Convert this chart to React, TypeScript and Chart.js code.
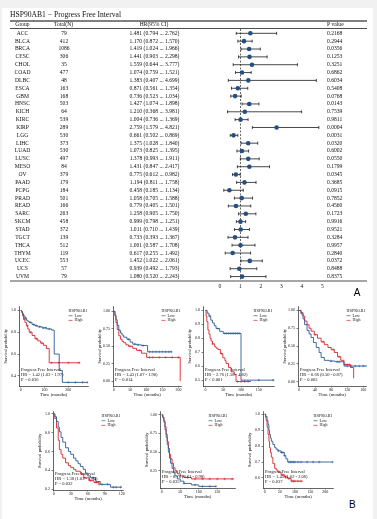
import React, { useEffect, useRef } from 'react';
import { Chart, registerables } from 'chart.js';

Chart.register(...registerables);

const SERIF = '"Liberation Serif", "Times New Roman", serif';
const SANS = '"Liberation Sans", Arial, sans-serif';
const BLUE = '#2c5b94';
const RED = '#d9252b';
const DOT = '#234f83';

// ---------- Panel A data ----------
const groups = ['ACC','BLCA','BRCA','CESC','CHOL','COAD','DLBC','ESCA','GBM','HNSC','KICH','KIRC','KIRP','LGG','LIHC','LUAD','LUSC','MESO','OV','PAAD','PCPG','PRAD','READ','SARC','SKCM','STAD','TGCT','THCA','THYM','UCEC','UCS','UVM'];
const totals = [79,412,1086,306,35,477,48,163,168,503,64,539,289,530,373,530,497,84,379,179,184,501,166,263,458,372,139,512,119,553,57,79];
const hr = [1.481,1.170,1.419,1.441,1.559,1.074,1.383,0.871,0.736,1.427,1.210,1.004,2.759,0.661,1.375,1.073,1.378,1.431,0.775,1.194,0.458,1.058,0.779,1.258,0.999,1.011,0.733,1.001,0.617,1.452,0.939,1.080];
const lower = [0.794,0.872,1.024,0.903,0.644,0.759,0.407,0.561,0.523,1.074,0.368,0.736,1.579,0.502,1.028,0.825,0.993,0.847,0.612,0.811,0.185,0.705,0.405,0.905,0.798,0.710,0.393,0.587,0.255,1.022,0.492,0.520];
const upper = [2.762,1.570,1.966,2.298,3.777,1.521,4.699,1.354,1.034,1.898,3.981,1.369,4.821,0.869,1.840,1.395,1.911,2.417,0.982,1.758,1.134,1.588,1.501,1.750,1.251,1.439,1.367,1.708,1.492,2.061,1.793,2.243];
const pValues = ['0.2168','0.2944','0.0356','0.1253','0.3251','0.6862','0.6034','0.5408','0.0768','0.0143','0.7539','0.9811','0.0004','0.0031','0.0320','0.6002','0.0550','0.1799','0.0345','0.3685','0.0915','0.7852','0.4560','0.1723','0.9916','0.9521','0.3284','0.9957','0.2840','0.0372','0.8488','0.8375'];
const forestTicks = [0, 1, 2, 3, 4, 5];

// ---------- Panel B data (Kaplan-Meier curves) ----------
const brcaLowT = [0,4,8,12,18,24,30,36,48,60,72,90,110,130,141,162,175,280];
const brcaLowS = [1,0.99,0.97,0.95,0.93,0.91,0.9,0.89,0.87,0.86,0.85,0.84,0.83,0.82,0.6,0.45,0.34,0.34];
const brcaLowC = [20,40,55,65,80,95,105,120,200,230,260,280];
const brcaHighT = [0,4,8,12,18,24,30,36,48,60,72,84,96,108,120,250];
const brcaHighS = [1,0.98,0.95,0.92,0.89,0.86,0.83,0.8,0.77,0.74,0.72,0.7,0.68,0.65,0.52,0.52];
const brcaHighC = [15,28,42,66,90,130,160,200,245];

const hnscLowT = [0,3,6,10,15,20,25,30,40,50,58,70,85,104,178];
const hnscLowS = [1,0.95,0.88,0.8,0.73,0.69,0.66,0.63,0.6,0.56,0.53,0.52,0.51,0.42,0.42];
const hnscLowC = [45,65,75,90,110,120,130,140,150,160,170,178];
const hnscHighT = [0,3,6,10,15,20,25,30,37,45,58,70,85,101,205];
const hnscHighS = [1,0.93,0.84,0.74,0.65,0.6,0.57,0.55,0.52,0.5,0.47,0.44,0.4,0.34,0];
const hnscHighC = [50,80,110,120,140,160,180,200];

const kirpLowT = [0,5,10,15,20,25,30,40,50,100,194];
const kirpLowS = [1,0.98,0.96,0.93,0.91,0.89,0.87,0.85,0.835,0.5,0.5];
const kirpLowC = [12,35,55,60,65,70,75,80,85,90,95,150,190];
const kirpHighT = [0,2,4,7,10,13,16,20,26,30,35,42,49,55,58,65,72,81,86,128];
const kirpHighS = [1,0.96,0.92,0.86,0.83,0.8,0.78,0.76,0.74,0.73,0.72,0.69,0.66,0.64,0.62,0.59,0.56,0.54,0.49,0.49];
const kirpHighC = [20,45,90,100,110,120];

const lggLowT = [0,5,10,14,20,25,30,36,43,50,55,63,75,90,112,168];
const lggLowS = [1,0.95,0.88,0.8,0.72,0.67,0.62,0.55,0.48,0.41,0.34,0.3,0.29,0.28,0.22,0.22];
const lggLowC = [80,95,100,120,130,140,150,160,168];
const lggHighT = [0,5,10,14,20,25,30,38,46,55,63,72,80,88,96,104,112,128,136];
const lggHighS = [1,0.97,0.92,0.85,0.8,0.75,0.71,0.66,0.61,0.56,0.52,0.48,0.45,0.41,0.35,0.3,0.24,0.2,0.05];
const lggHighC = [40,60,85,100,115,120,125];

const lihcLowT = [0,2,5,8,10,13,16,21,26,30,35,39,43,47,52,56,60,65,74,82,100,120];
const lihcLowS = [1,0.97,0.92,0.86,0.81,0.75,0.7,0.64,0.6,0.57,0.53,0.5,0.47,0.44,0.41,0.37,0.34,0.32,0.28,0.25,0.22,0.22];
const lihcLowC = [70,85,95,105,110,118];
const lihcHighT = [0,2,5,8,10,13,16,21,26,30,35,39,47,53,62,71,80];
const lihcHighS = [1,0.95,0.85,0.72,0.62,0.57,0.53,0.48,0.45,0.43,0.41,0.39,0.36,0.32,0.29,0.27,0.25];
const lihcHighC = [55,65,75,80];

const ovLowT = [0,3,6,9,12,15,18,21,24,28,32,36,42,50,60,80,100,146];
const ovLowS = [1,0.96,0.9,0.8,0.7,0.6,0.5,0.42,0.35,0.28,0.22,0.18,0.14,0.11,0.08,0.06,0.04,0.04];
const ovLowC = [60,90,110,130,146];
const ovHighT = [0,3,6,9,12,15,18,21,24,28,32,36,42,50,60,80,195];
const ovHighS = [1,0.97,0.92,0.84,0.74,0.64,0.55,0.47,0.41,0.35,0.29,0.25,0.21,0.18,0.16,0.14,0.14];
const ovHighC = [70,90,110,130,150,170,190];

const ucecLowT = [0,3,5,8,11,14,16,19,22,27,33,38,44,54,65,70,76,225];
const ucecLowS = [1,0.99,0.985,0.96,0.935,0.9,0.873,0.85,0.83,0.81,0.79,0.78,0.77,0.76,0.74,0.72,0.7,0.7];
const ucecLowC = [45,55,60,65,80,85,90,95,100,110,120,140,160,180,225];
const ucecHighT = [0,3,5,8,11,14,16,19,22,27,33,38,44,54,65,76,87,125];
const ucecHighS = [1,0.98,0.96,0.92,0.873,0.83,0.79,0.76,0.73,0.69,0.66,0.65,0.637,0.62,0.606,0.596,0.58,0.58];
const ucecHighC = [60,70,80,90,95,100,110,120];

const kmNames = ['BRCA','HNSC','KIRP','LGG','LIHC','OV','UCEC'];
const kmHrText = ['HR = 1.42 (1.02 - 1.97)','HR = 1.43 (1.07 - 1.90)','HR = 2.76 (1.58 - 4.82)','HR = 0.66 (0.50 - 0.87)','HR = 1.38 (1.03 - 1.84)','HR = 0.78 (0.61 - 0.98)','HR = 1.45 (1.02 - 2.06)'];
const kmPText = ['P = 0.036','P = 0.014','P < 0.001','P = 0.003','P = 0.032','P = 0.035','P = 0.037'];
const kmXTicks = [[0,100,200],[0,50,100,150,200],[0,50,100,150],[0,40,80,120,160],[0,30,60,90,120],[0,50,100,150],[0,50,100,150,200]];
const kmYTicks = [[0.4,0.6,0.8,1.0],[0,0.25,0.5,0.75,1],[0.5,0.6,0.7,0.8,0.9,1.0],[0,0.25,0.5,0.75,1],[0.2,0.4,0.6,0.8,1.0],[0.25,0.5,0.75,1.0],[0.6,0.7,0.8,0.9,1.0]];
const kmYDecimals = [1,2,1,2,1,2,1];
const kmXRange = [[-7,285],[-3,209],[-6.7,194],[-2.5,168],[-1.2,123],[-4.5,199],[-5.5,227]];
const kmYRange = [[0.307,1.036],[-0.07,1.07],[0.458,1.028],[-0.06,1.055],[0.19,1.026],[0.0185,1.044],[0.537,1.017]];
const kmCurves = [
  { lowT: brcaLowT, lowS: brcaLowS, lowC: brcaLowC, highT: brcaHighT, highS: brcaHighS, highC: brcaHighC },
  { lowT: hnscLowT, lowS: hnscLowS, lowC: hnscLowC, highT: hnscHighT, highS: hnscHighS, highC: hnscHighC },
  { lowT: kirpLowT, lowS: kirpLowS, lowC: kirpLowC, highT: kirpHighT, highS: kirpHighS, highC: kirpHighC },
  { lowT: lggLowT, lowS: lggLowS, lowC: lggLowC, highT: lggHighT, highS: lggHighS, highC: lggHighC },
  { lowT: lihcLowT, lowS: lihcLowS, lowC: lihcLowC, highT: lihcHighT, highS: lihcHighS, highC: lihcHighC },
  { lowT: ovLowT, lowS: ovLowS, lowC: ovLowC, highT: ovHighT, highS: ovHighS, highC: ovHighC },
  { lowT: ucecLowT, lowS: ucecLowS, lowC: ucecLowC, highT: ucecHighT, highS: ucecHighS, highC: ucecHighC },
];

// layout of KM panels (page px): axis x, top, right, bottom of plot area; legend offset
const kmBoxes = [
  { axisX: 19, top: 305, right: 90, bottom: 386, legendDx: 20 },
  { axisX: 113, top: 305, right: 183, bottom: 386, legendDx: 20 },
  { axisX: 203, top: 305, right: 276, bottom: 386, legendDx: 21 },
  { axisX: 298, top: 305, right: 368, bottom: 386, legendDx: 20 },
  { axisX: 53, top: 410, right: 125, bottom: 490, legendDx: 22 },
  { axisX: 160, top: 410, right: 237, bottom: 488, legendDx: 27 },
  { axisX: 263, top: 410, right: 335, bottom: 488, legendDx: 20 },
];

function survAt(t: number[], s: number[], time: number) {
  let v = s[0];
  for (let i = 0; i < t.length; i++) if (t[i] <= time) v = s[i];
  return v;
}

const forestPlugin = {
  id: 'forestTable',
  beforeDatasetsDraw(chart: any) {
    const { ctx, scales } = chart;
    const x = scales.x, y = scales.y;
    ctx.save();
    const x1 = x.getPixelForValue(1);
    ctx.setLineDash([2, 1.5]);
    ctx.lineWidth = 0.6;
    ctx.strokeStyle = '#000';
    ctx.beginPath();
    ctx.moveTo(x1, 29);
    ctx.lineTo(x1, 281);
    ctx.stroke();
    ctx.setLineDash([]);
    ctx.strokeStyle = '#1a1a1a';
    ctx.lineWidth = 0.8;
    groups.forEach((g, i) => {
      const py = y.getPixelForValue(i);
      const a = x.getPixelForValue(lower[i]);
      const b = x.getPixelForValue(upper[i]);
      ctx.beginPath();
      ctx.moveTo(a, py); ctx.lineTo(b, py);
      ctx.moveTo(a, py - 1.5); ctx.lineTo(a, py + 1.5);
      ctx.moveTo(b, py - 1.5); ctx.lineTo(b, py + 1.5);
      ctx.stroke();
    });
    ctx.restore();
  },
  afterDraw(chart: any) {
    const { ctx, scales } = chart;
    const x = scales.x, y = scales.y;
    ctx.save();
    ctx.fillStyle = '#111';
    ctx.textBaseline = 'middle';
    ctx.font = `7.6px ${SERIF}`;
    ctx.textAlign = 'left';
    ctx.fillText('HSP90AB1 \u2212 Progress Free Interval', 10, 15);
    ctx.strokeStyle = '#000';
    ctx.lineWidth = 1;
    ctx.beginPath(); ctx.moveTo(10, 21); ctx.lineTo(367, 21); ctx.stroke();
    ctx.lineWidth = 0.7;
    ctx.beginPath(); ctx.moveTo(10, 28.5); ctx.lineTo(367, 28.5); ctx.stroke();
    ctx.beginPath(); ctx.moveTo(10, 281); ctx.lineTo(367, 281); ctx.stroke();
    ctx.font = `5.6px ${SERIF}`;
    ctx.textAlign = 'center';
    ctx.fillText('Group', 22.5, 24.7);
    ctx.fillText('Total(N)', 63.5, 24.7);
    ctx.fillText('HR(95% CI)', 154, 24.7);
    ctx.textAlign = 'left';
    ctx.fillText('P value', 327, 24.7);
    groups.forEach((g, i) => {
      const py = y.getPixelForValue(i);
      ctx.textAlign = 'center';
      ctx.fillText(g, 22.5, py);
      ctx.fillText(String(totals[i]), 64, py);
      ctx.fillText(`${hr[i].toFixed(3)} (${lower[i].toFixed(3)} ... ${upper[i].toFixed(3)})`, 154.5, py);
      ctx.textAlign = 'left';
      ctx.fillText(pValues[i], 327, py);
    });
    ctx.textAlign = 'center';
    forestTicks.forEach((t) => {
      ctx.fillText(String(t), x.getPixelForValue(t), 286.5);
    });
    ctx.font = `10px ${SANS}`;
    ctx.fillStyle = '#000';
    ctx.fillText('A', 357, 293.5);
    ctx.restore();
  },
};

const kmTextPlugin = {
  id: 'kmText',
  afterDraw(chart: any, _args: any, opts: any) {
    const { ctx, chartArea } = chart;
    ctx.save();
    ctx.font = `4px ${SERIF}`;
    ctx.fillStyle = '#111';
    ctx.textBaseline = 'middle';
    ctx.textAlign = 'left';
    const lx = chartArea.right - opts.legendDx;
    const ly = chartArea.top + 4;
    ctx.fillText('HSP90AB1', lx, ly);
    const items: [string, string][] = [['Low', BLUE], ['High', RED]];
    items.forEach(([label, col], k) => {
      const yy = ly + 5.2 + k * 4.7;
      ctx.strokeStyle = col;
      ctx.lineWidth = 0.7;
      ctx.beginPath(); ctx.moveTo(lx, yy); ctx.lineTo(lx + 4, yy); ctx.stroke();
      ctx.fillText(label, lx + 6, yy);
    });
    ctx.font = `4.5px ${SERIF}`;
    const tx = chartArea.left + 2;
    ctx.fillText('Progress Free Interval', tx, chartArea.bottom - 16);
    ctx.fillText(opts.hrText, tx, chartArea.bottom - 11);
    ctx.fillText(opts.pText, tx, chartArea.bottom - 6.3);
    ctx.restore();
  },
};

function ForestChart() {
  const ref = useRef<HTMLCanvasElement>(null);
  useEffect(() => {
    const chart = new Chart(ref.current as HTMLCanvasElement, {
      type: 'scatter',
      data: {
        datasets: [{
          data: groups.map((g, i) => ({ x: hr[i], y: i })),
          pointRadius: 2.3,
          pointBackgroundColor: DOT,
          pointBorderWidth: 0,
        }],
      },
      options: {
        animation: false,
        responsive: false,
        events: [],
        layout: { padding: { left: 220, right: 54.5, top: 29.4, bottom: 19.5 } },
        plugins: { legend: { display: false }, tooltip: { enabled: false } },
        scales: {
          x: { type: 'linear', min: 0, max: 5, display: false },
          y: { type: 'linear', min: -0.5, max: 31.5, reverse: true, display: false },
        },
      },
      plugins: [forestPlugin],
    } as any);
    return () => chart.destroy();
  }, []);
  return <canvas ref={ref} width={377} height={300} style={{ position: 'absolute', left: 0, top: 0, width: 377, height: 300 }} />;
}

function KMChart({ idx }: { idx: number }) {
  const ref = useRef<HTMLCanvasElement>(null);
  const box = kmBoxes[idx];
  const left = box.axisX - 16;
  const top = box.top - 3;
  const width = box.right + 3 - left;
  const height = box.bottom + 12 - top;
  useEffect(() => {
    const c = kmCurves[idx];
    const toPts = (t: number[], s: number[]) => t.map((v, i) => ({ x: v, y: s[i] }));
    const cens = (t: number[], s: number[], cc: number[]) => cc.map((v) => ({ x: v, y: survAt(t, s, v) }));
    const xt = kmXTicks[idx], yt = kmYTicks[idx], dec = kmYDecimals[idx];
    const axisCommon = {
      type: 'linear',
      grid: { drawOnChartArea: false, drawTicks: true, tickLength: 1.5, color: '#000', lineWidth: 0.5 },
      border: { display: true, color: '#000', width: 0.6 },
    };
    const chart = new Chart(ref.current as HTMLCanvasElement, {
      type: 'line',
      data: {
        datasets: [
          { data: toPts(c.lowT, c.lowS), borderColor: BLUE, borderWidth: 0.9, stepped: true, pointRadius: 0, fill: false },
          { data: toPts(c.highT, c.highS), borderColor: RED, borderWidth: 0.9, stepped: true, pointRadius: 0, fill: false },
          { data: cens(c.lowT, c.lowS, c.lowC), showLine: false, pointStyle: 'cross', pointRadius: 1.3, borderColor: BLUE, pointBorderWidth: 0.5 },
          { data: cens(c.highT, c.highS, c.highC), showLine: false, pointStyle: 'cross', pointRadius: 1.3, borderColor: RED, pointBorderWidth: 0.5 },
        ],
      },
      options: {
        animation: false,
        responsive: false,
        events: [],
        layout: { padding: { left: 0, top: 3, right: 3, bottom: 0 } },
        plugins: {
          legend: { display: false },
          tooltip: { enabled: false },
          kmText: { legendDx: box.legendDx, hrText: kmHrText[idx], pText: kmPText[idx] },
        },
        scales: {
          x: {
            ...axisCommon,
            min: kmXRange[idx][0], max: kmXRange[idx][1],
            afterBuildTicks: (s: any) => { s.ticks = xt.map((v) => ({ value: v })); },
            afterFit: (s: any) => { s.height = 12; },
            ticks: { font: { size: 4, family: SERIF }, color: '#111', padding: 0.5, maxRotation: 0, autoSkip: false, callback: (v: any) => String(v) },
            title: { display: true, text: 'Time (months)', font: { size: 4.6, family: SERIF }, color: '#111', padding: 0 },
          },
          y: {
            ...axisCommon,
            min: kmYRange[idx][0], max: kmYRange[idx][1],
            afterBuildTicks: (s: any) => { s.ticks = yt.map((v) => ({ value: v })); },
            afterFit: (s: any) => { s.width = 16; },
            ticks: { font: { size: 4, family: SERIF }, color: '#111', padding: 1.5, autoSkip: false, callback: (v: any) => Number(v).toFixed(dec) },
            title: { display: true, text: 'Survival probability', font: { size: 4.3, family: SERIF }, color: '#111', padding: 0 },
          },
        },
      },
      plugins: [kmTextPlugin],
    } as any);
    return () => chart.destroy();
  }, [idx]);
  return (
    <canvas
      ref={ref}
      width={width}
      height={height}
      aria-label={`Kaplan-Meier ${kmNames[idx]}`}
      style={{ position: 'absolute', left, top, width, height }}
    />
  );
}

export default function App() {
  return (
    <div style={{ position: 'absolute', left: 0, top: 0, width: 377, height: 519, background: '#f1f1f1', overflow: 'hidden' }}>
      <div style={{ position: 'absolute', left: 2, top: 8, width: 371, height: 511, background: '#ffffff' }} />
      <ForestChart />
      {kmNames.map((n, i) => <KMChart key={n} idx={i} />)}
      <div style={{ position: 'absolute', left: 349, top: 499, fontFamily: SANS, fontSize: 10, color: '#000', lineHeight: '12px' }}>B</div>
    </div>
  );
}
